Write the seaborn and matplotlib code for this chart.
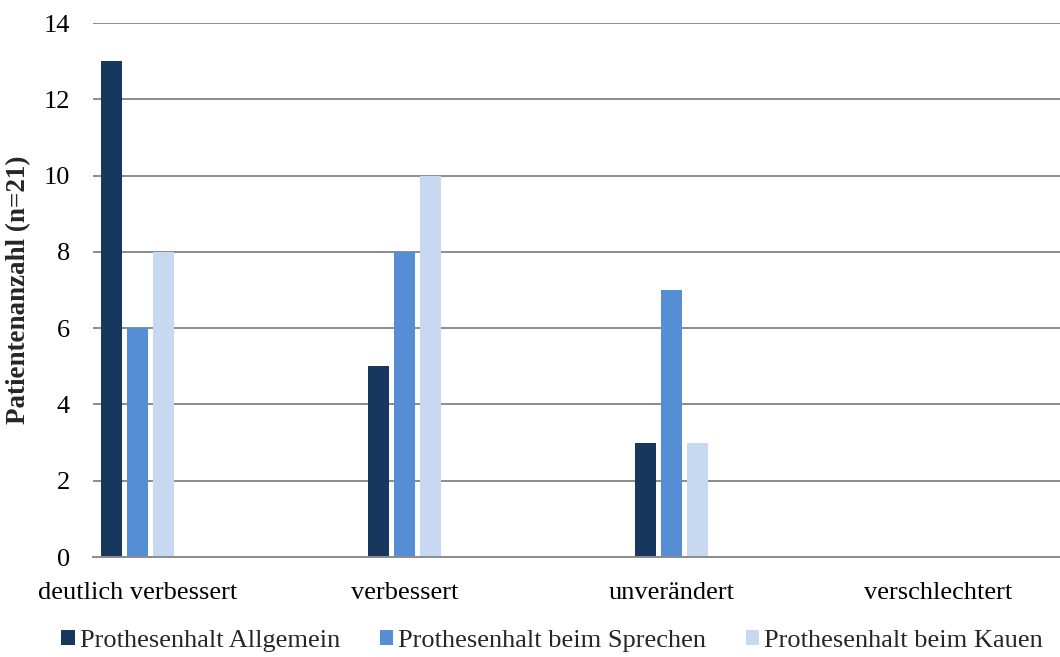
import matplotlib
matplotlib.use("Agg")
import matplotlib.pyplot as plt
import seaborn as sns
import pandas as pd
from matplotlib.patches import Patch

categories = ["deutlich verbessert", "verbessert", "unverändert", "verschlechtert"]
series_names = ["Prothesenhalt Allgemein", "Prothesenhalt beim Sprechen", "Prothesenhalt beim Kauen"]
allgemein = [13, 5, 3, 0]
sprechen = [6, 8, 7, 0]
kauen = [8, 10, 3, 0]
colors = ["#17375E", "#558ED5", "#C6D9F1"]
y_ticks = [0, 2, 4, 6, 8, 10, 12, 14]

rows = []
for name, vals in zip(series_names, [allgemein, sprechen, kauen]):
    for cat, v in zip(categories, vals):
        rows.append({"Kategorie": cat, "Serie": name, "Anzahl": v})
df = pd.DataFrame(rows)

sns.set_style("white")
plt.rcParams["font.family"] = ["Liberation Serif", "DejaVu Serif"]

fig = plt.figure(figsize=(10.6, 6.57), dpi=100)
ax = fig.add_axes([93 / 1060, 1 - 557 / 657, 1 - 93 / 1060, (557 - 23) / 657])

sns.barplot(data=df, x="Kategorie", y="Anzahl", hue="Serie", order=categories,
            hue_order=series_names, palette=colors, width=0.292, gap=0.19,
            saturation=1, errorbar=None, ax=ax, legend=False, linewidth=0)

ax.set_xlim(-0.167, 3.455)
ax.set_ylim(0, 14)
ax.set_yticks(y_ticks)
ax.set_yticklabels([str(t) for t in y_ticks])
ax.yaxis.grid(True, color="#8C8C8C", linewidth=1.4)
ax.set_axisbelow(True)
for s in ["top", "right", "left"]:
    ax.spines[s].set_visible(False)
ax.spines["bottom"].set_color("#8C8C8C")
ax.spines["bottom"].set_linewidth(1.4)
ax.tick_params(axis="both", length=0, labelsize=19, colors="black")
ax.tick_params(axis="x", pad=18)
ax.tick_params(axis="y", pad=16.5)
ax.set_xlabel("")
ax.set_ylabel("Patientenanzahl (n=21)", fontsize=19.5, fontweight="bold", labelpad=9)

handles = [Patch(facecolor=c, edgecolor="none") for c in colors]
fig.legend(handles, series_names, loc="lower center", bbox_to_anchor=(0.521, -0.028),
           ncol=3, frameon=False, fontsize=19, handlelength=0.5, handleheight=0.5,
           handletextpad=0.2, columnspacing=1.5)

fig.savefig("out.png", dpi=100, facecolor="white")
